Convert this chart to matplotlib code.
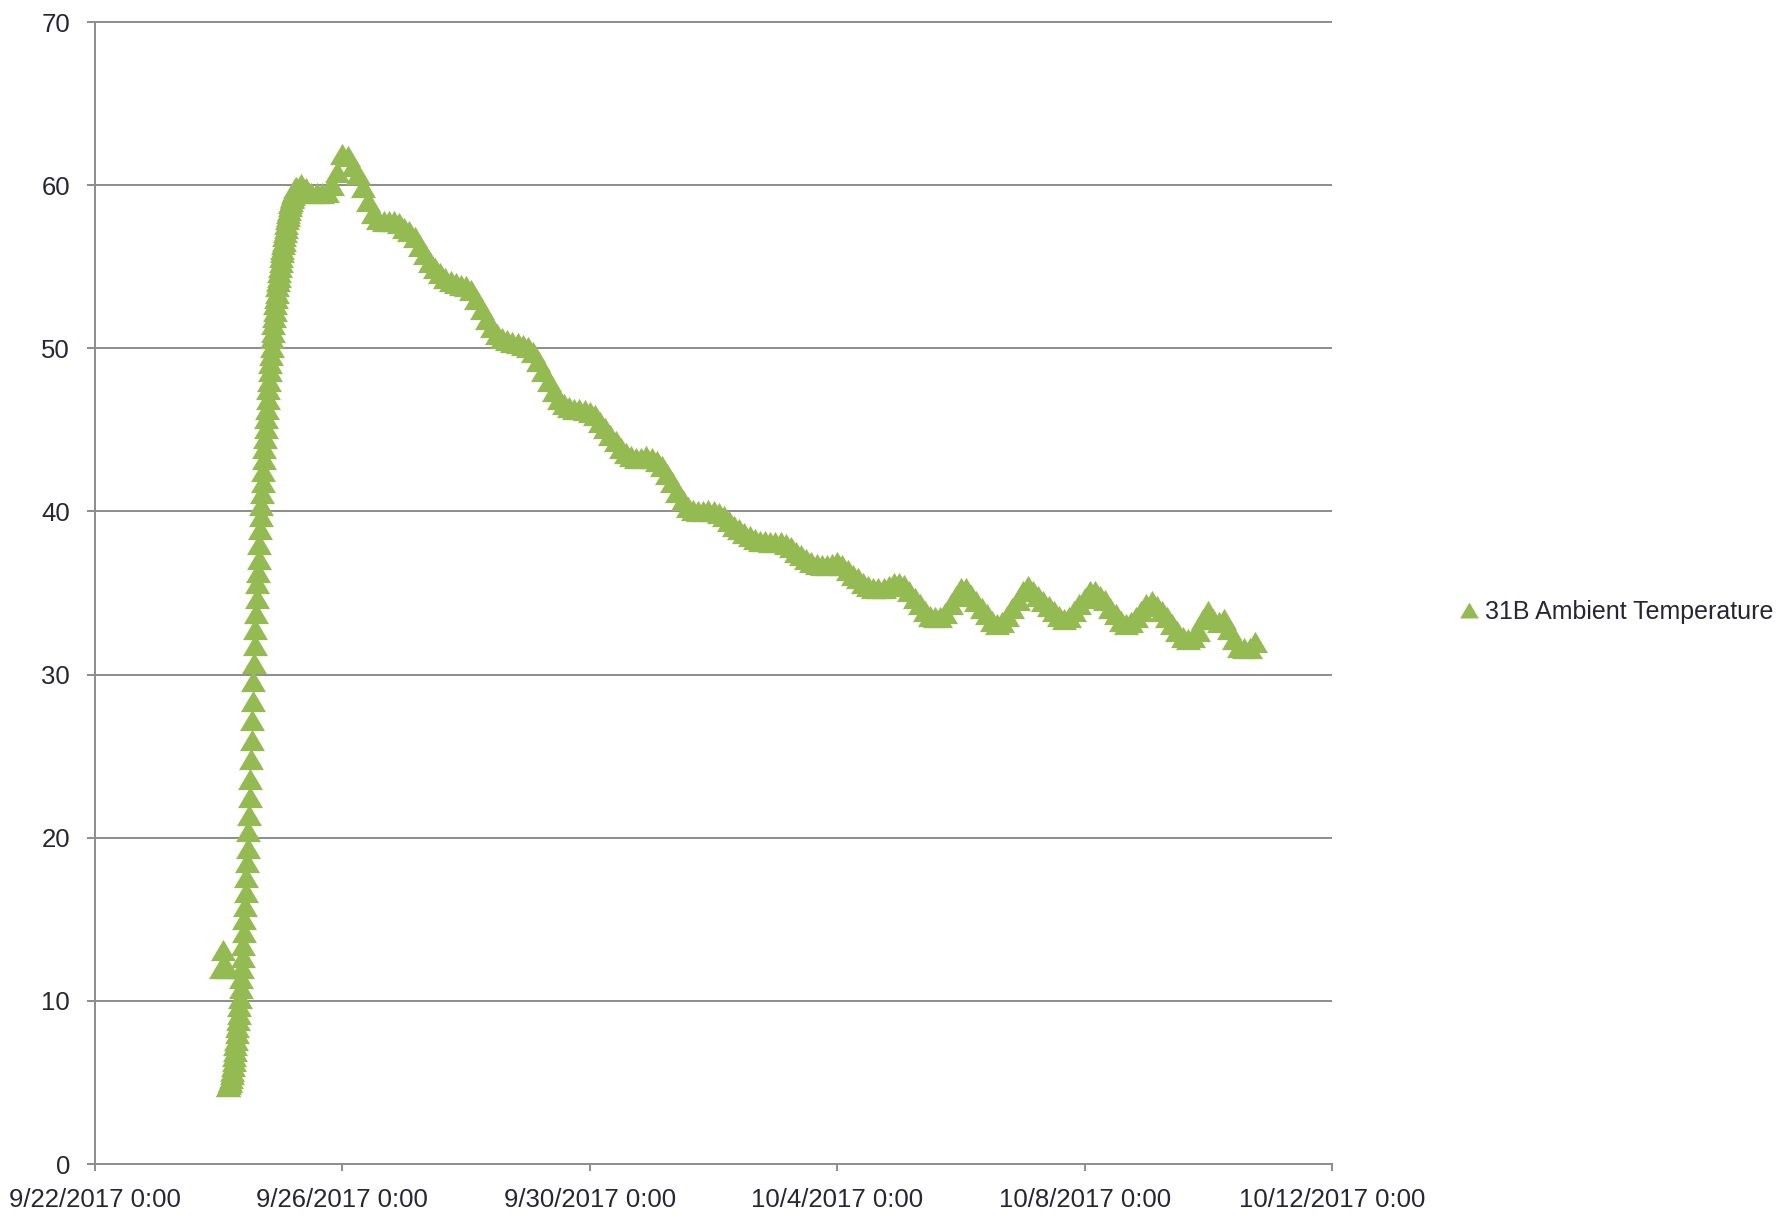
import matplotlib
matplotlib.use("Agg")
import matplotlib.pyplot as plt
import matplotlib.dates as mdates
from matplotlib.ticker import FuncFormatter
from datetime import datetime, timedelta

# ---------------- data (hours since 9/22/2017 0:00, temperature) ----------------
series_name = "31B Ambient Temperature"
start_date = "2017-09-22 00:00"

init_hours = [49.0, 49.8, 50.5, 51.2]
init_temps = [12.0, 13.1, 12.0, 12.0]

# 15-minute readings during the warm-up
rise_first_hour = 51.5
rise_step_hours = 0.25
rise_temps = [
    4.8, 4.8, 4.9, 5.0, 5.1, 5.3, 5.5, 5.7, 6.0, 6.3, 6.6, 6.9,
    7.3, 7.6, 8.0, 8.4, 8.8, 9.2, 9.7, 10.2, 10.8, 11.4, 12.0, 12.7,
    13.4, 14.2, 15.0, 15.8, 16.7, 17.6, 18.5, 19.4, 20.4, 21.4, 22.5, 23.6,
    24.8, 26.0, 27.2, 28.4, 29.6, 30.7, 31.8, 32.8, 33.8, 34.7, 35.6, 36.3,
    37.1, 38.0, 38.9, 39.7, 40.4, 41.1, 41.8, 42.5, 43.2, 43.9, 44.5, 45.1,
    45.7, 46.3, 46.9, 47.5, 48.0, 48.6, 49.1, 49.6, 50.1, 50.6, 51.0, 51.5,
    51.9, 52.3, 52.7, 53.1, 53.4, 53.8, 54.1, 54.4, 54.7, 55.0,
    55.3, 55.6, 55.9, 56.1, 56.4, 56.6, 56.9, 57.1, 57.4, 57.6, 57.9, 58.1,
    58.3, 58.5, 58.7, 58.9, 59.0, 59.2, 59.3, 59.4, 59.5, 59.6, 59.7, 59.8,
]

# 2-hour readings afterwards
decay_first_hour = 78.0
decay_step_hours = 2.0
decay_temps = [
    59.9, 60.1, 59.8, 59.5, 59.5, 59.5, 59.6, 60.0, 60.8, 61.9, 61.8, 61.2,
    60.7, 59.9, 59.0, 58.3, 57.9, 57.8, 57.8, 57.8, 57.7, 57.4, 57.2, 56.8,
    56.3, 55.8, 55.3, 54.9, 54.6, 54.3, 54.1, 54.0, 53.9, 53.8, 53.6, 53.0,
    52.4, 51.8, 51.3, 50.9, 50.6, 50.5, 50.4, 50.3, 50.2, 50.1, 49.8, 49.2,
    48.6, 48.0, 47.4, 46.9, 46.6, 46.4, 46.3, 46.3, 46.2, 46.1, 45.9, 45.5,
    45.1, 44.7, 44.3, 43.9, 43.6, 43.4, 43.3, 43.3, 43.4, 43.3, 43.1, 42.8,
    42.3, 41.8, 41.2, 40.7, 40.3, 40.1, 40.0, 40.0, 40.1, 40.0, 39.9, 39.7,
    39.4, 39.1, 38.9, 38.7, 38.5, 38.3, 38.2, 38.2, 38.1, 38.1, 38.1, 38.0,
    37.8, 37.5, 37.3, 37.1, 36.9, 36.8, 36.7, 36.7, 36.8, 36.9, 36.7, 36.4,
    36.1, 35.9, 35.6, 35.4, 35.3, 35.3, 35.3, 35.4, 35.6, 35.6, 35.5, 35.1,
    34.7, 34.3, 33.9, 33.6, 33.5, 33.5, 33.8, 34.3, 34.8, 35.3, 35.3, 34.9,
    34.5, 34.1, 33.7, 33.3, 33.1, 33.2, 33.6, 34.1, 34.6, 35.1, 35.4, 35.1,
    34.8, 34.5, 34.2, 33.9, 33.6, 33.4, 33.5, 33.9, 34.3, 34.7, 35.1, 35.1,
    34.8, 34.6, 34.1, 33.7, 33.3, 33.1, 33.2, 33.5, 33.9, 34.3, 34.5, 34.2,
    33.9, 33.5, 33.1, 32.7, 32.3, 32.2, 32.3, 32.7, 33.4, 33.9, 33.4, 33.2,
    33.4, 32.8, 32.2, 31.7, 31.6, 31.6, 32.0,
]

x_tick_dates = ["2017-09-22", "2017-09-26", "2017-09-30", "2017-10-04",
                "2017-10-08", "2017-10-12"]
y_ticks = [0, 10, 20, 30, 40, 50, 60, 70]

# ---------------- assemble ----------------
t0 = datetime.strptime(start_date, "%Y-%m-%d %H:%M")
hours = (list(init_hours)
         + [rise_first_hour + i * rise_step_hours for i in range(len(rise_temps))]
         + [decay_first_hour + i * decay_step_hours for i in range(len(decay_temps))])
temps = list(init_temps) + list(rise_temps) + list(decay_temps)
times = [t0 + timedelta(hours=h) for h in hours]

# ---------------- style ----------------
plt.rcParams["font.family"] = ["Liberation Sans", "DejaVu Sans"]

green = "#94BA52"
grey = "#8C8C8C"
text_col = "#262636"

fig = plt.figure(figsize=(17.81, 12.17), dpi=100)
ax = fig.add_axes([95 / 1781, 1 - 1164 / 1217, (1332 - 95) / 1781, (1164 - 22) / 1217])

tri = [(-1, -0.85), (0, 0.85), (1, -0.85)]
ax.plot(times, temps, linestyle="none", marker=tri, markersize=18,
        markeredgewidth=0, color=green, label=series_name, zorder=3)

xmin = datetime.strptime(x_tick_dates[0], "%Y-%m-%d")
xmax = datetime.strptime(x_tick_dates[-1], "%Y-%m-%d")
ax.set_xlim(xmin, xmax)
ax.set_ylim(y_ticks[0], y_ticks[-1])

ax.hlines(y_ticks[1:], xmin, xmax, colors=grey, linewidth=1.4, zorder=1, clip_on=False)

ax.set_xticks([datetime.strptime(d, "%Y-%m-%d") for d in x_tick_dates])
ax.xaxis.set_major_formatter(FuncFormatter(
    lambda v, p: (lambda d: f"{d.month}/{d.day}/{d.year} {d.hour}:{d.minute:02d}")(mdates.num2date(v))))
ax.set_yticks(y_ticks)

for s in ["top", "right"]:
    ax.spines[s].set_visible(False)
for s in ["left", "bottom"]:
    ax.spines[s].set_color(grey)
    ax.spines[s].set_linewidth(1.4)

ax.tick_params(axis="y", length=6, width=1.4, color=grey, pad=12,
               labelsize=18.5, labelcolor=text_col)
ax.tick_params(axis="x", length=5, width=1.4, color=grey, pad=12,
               labelsize=18.5, labelcolor=text_col)

fig.legend(loc="center left", bbox_to_anchor=(1460 / 1781, 1 - 612 / 1217),
           frameon=False, handlelength=0.7, handletextpad=0.3, borderpad=0,
           borderaxespad=0, fontsize=18, labelcolor=text_col, markerscale=0.75)

fig.savefig("out.png", dpi=100, facecolor="white")
